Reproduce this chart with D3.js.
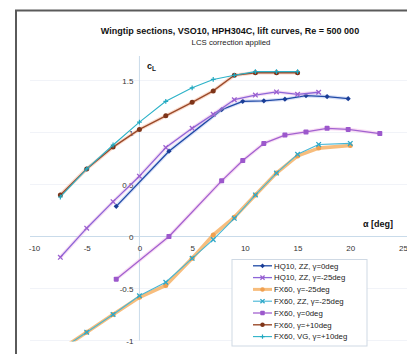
<!DOCTYPE html>
<html><head><meta charset="utf-8">
<script src="https://cdn.jsdelivr.net/npm/d3@7"></script>
<style>
body{margin:0;background:#fff}
svg{display:block}
text{font-family:"Liberation Sans",Arial,sans-serif}
</style>
</head><body>
<svg id="chart" width="407" height="354"></svg>
<script>
// ---- data ----
const titleText = "Wingtip sections, VSO10, HPH304C, lift curves, Re = 500 000";
const subtitleText = "LCS correction applied";
const xTicks = [-10, -5, 0, 5, 10, 15, 20, 25];
const yTicks = [-1, -0.5, 0, 0.5, 1, 1.5];
const seriesNames = ["HQ10, ZZ, \u03b3=0deg", "HQ10, ZZ, \u03b3=-25deg", "FX60, \u03b3=-25deg",
  "FX60, ZZ, \u03b3=-25deg", "FX60, \u03b3=0deg", "FX60, \u03b3=+10deg", "FX60, VG, \u03b3=+10deg"];

const hq10_g0_alpha = [-2.2, 2.8, 7.8, 9.8, 11.8, 13.8, 15.8, 17.8, 19.8];
const hq10_g0_cl    = [0.29, 0.82, 1.22, 1.30, 1.305, 1.32, 1.355, 1.345, 1.325];

const hq10_g25_alpha = [-7.5, -5, -2.5, 0, 2.5, 5, 7, 9, 11, 13, 15, 17];
const hq10_g25_cl    = [-0.20, 0.08, 0.335, 0.58, 0.855, 1.04, 1.175, 1.315, 1.36, 1.39, 1.367, 1.387];

const fx60_g25_alpha = [-7.5, -5, -2.5, 0, 2.5, 5, 7, 9, 11, 13, 15, 17, 20];
const fx60_g25_cl    = [-1.09, -0.92, -0.75, -0.585, -0.47, -0.21, 0.015, 0.185, 0.40, 0.61, 0.775, 0.85, 0.875];

const fx60zz_g25_alpha = [-7.5, -5, -2.5, 0, 2.5, 5, 7, 9, 11, 13, 15, 17, 20];
const fx60zz_g25_cl    = [-1.09, -0.92, -0.75, -0.57, -0.44, -0.21, -0.03, 0.175, 0.40, 0.61, 0.79, 0.885, 0.895];

const fx60_g0_alpha = [-2.2, 2.8, 7.8, 9.8, 11.8, 13.8, 15.8, 17.8, 19.8, 22.8];
const fx60_g0_cl    = [-0.41, 0.0, 0.535, 0.73, 0.895, 0.975, 1.005, 1.04, 1.03, 0.99];

const fx60_g10_alpha = [-7.5, -5, -2.5, 0, 2.5, 5, 7, 9, 11, 13, 15];
const fx60_g10_cl    = [0.40, 0.65, 0.86, 1.03, 1.16, 1.29, 1.40, 1.55, 1.575, 1.575, 1.575];

const fx60vg_g10_alpha = [-7.5, -5, -2.5, 0, 2.5, 5, 7, 9, 11, 13, 15];
const fx60vg_g10_cl    = [0.38, 0.65, 0.88, 1.10, 1.30, 1.43, 1.51, 1.55, 1.585, 1.585, 1.585];

// ---- styles ----
const styles = [
  {color:"#1f4aa6", width:1.3, marker:"diamond", mfill:"#1a3d96", halo:"#a8b8ee"},
  {color:"#8c66d8", width:1.3, marker:"times", mfill:"#9a60d0", halo:"#f0b4e4"},
  {color:"#f6b266", width:3.6, marker:"circle", mfill:"#f0a050", halo:null, opacity:0.85},
  {color:"#45b6d6", width:1.1, marker:"times", mfill:"#30a8c8", halo:null},
  {color:"#a262d0", width:1.3, marker:"square", mfill:"#9c58cc", halo:"#f2b6e6"},
  {color:"#9a4a2a", width:1.4, marker:"circle", mfill:"#7e3418", halo:"#f4b090"},
  {color:"#2cb2c8", width:1.1, marker:"plus", mfill:"#22a8c0", halo:null}
];

const data = [
  d3.zip(hq10_g0_alpha, hq10_g0_cl),
  d3.zip(hq10_g25_alpha, hq10_g25_cl),
  d3.zip(fx60_g25_alpha, fx60_g25_cl),
  d3.zip(fx60zz_g25_alpha, fx60zz_g25_cl),
  d3.zip(fx60_g0_alpha, fx60_g0_cl),
  d3.zip(fx60_g10_alpha, fx60_g10_cl),
  d3.zip(fx60vg_g10_alpha, fx60vg_g10_cl)
];

const svg = d3.select("#chart");
svg.append("rect").attr("width",407).attr("height",354).attr("fill","#fff");

// outer frame (left & top edges visible)
svg.append("path").attr("d","M16,354V10.5H407").attr("fill","none")
  .attr("stroke","#5a5a5a").attr("stroke-width",2);

const x = d3.scaleLinear().domain([-10, 25]).range([34, 403]);
const y = d3.scaleLinear().domain([-1, 1.5]).range([340.5, 80.5]);

// faint gridlines
svg.append("g").selectAll("line").data(yTicks.filter(d=>d!==0)).join("line")
  .attr("x1",30).attr("x2",407).attr("y1",d=>y(d)).attr("y2",d=>y(d))
  .attr("stroke","#f1f3f8").attr("stroke-width",1);

// axis lines
svg.append("line").attr("x1",30).attr("x2",407).attr("y1",y(0)).attr("y2",y(0))
  .attr("stroke","#c9dbea").attr("stroke-width",1);
svg.append("line").attr("x1",x(0)).attr("x2",x(0)).attr("y1",56).attr("y2",y(-1))
  .attr("stroke","#c9dbea").attr("stroke-width",1);

// tick labels via d3 axes
const fmt = d => String(d);
const gx = svg.append("g").attr("transform",`translate(0,${y(0)})`)
  .call(d3.axisBottom(x).tickValues(xTicks).tickSize(0).tickPadding(9).tickFormat(fmt));
const gy = svg.append("g").attr("transform",`translate(${x(0)},0)`)
  .call(d3.axisLeft(y).tickValues(yTicks).tickSize(0).tickPadding(6).tickFormat(fmt));
[gx, gy].forEach(g => {
  g.select(".domain").remove();
  g.selectAll("text").attr("font-size",8).attr("fill","#333")
    .attr("font-family","'Liberation Sans',Arial,sans-serif");
});

// titles
svg.append("text").attr("x",230).attr("y",34).attr("text-anchor","middle")
  .attr("font-size",9).attr("font-weight","bold").attr("fill","#111").text(titleText);
svg.append("text").attr("x",231).attr("y",44.5).attr("text-anchor","middle")
  .attr("font-size",7.8).attr("fill","#222").text(subtitleText);

// axis titles
const cl = svg.append("text").attr("x",147).attr("y",69).attr("font-size",9)
  .attr("font-weight","bold").attr("fill","#111");
cl.append("tspan").text("c");
cl.append("tspan").attr("font-size",6.5).attr("dy",2).text("L");
svg.append("text").attr("x",363).attr("y",226.5).attr("font-size",9)
  .attr("font-weight","bold").attr("fill","#111").text("\u03b1 [deg]");

// clip
svg.append("clipPath").attr("id","clip").append("rect")
  .attr("x",28).attr("y",50).attr("width",379).attr("height",y(-1)-50+1);

const plot = svg.append("g").attr("clip-path","url(#clip)");
const line = d3.line().x(d=>x(d[0])).y(d=>y(d[1]));

function drawMarker(g, type, cx, cy, st, scale) {
  const s = scale || 1;
  if (type === "diamond") {
    const r = 2.6*s;
    g.append("path").attr("d",`M${cx},${cy-r}L${cx+r},${cy}L${cx},${cy+r}L${cx-r},${cy}Z`)
      .attr("fill",st.mfill);
  } else if (type === "square") {
    const r = 2.5*s;
    g.append("rect").attr("x",cx-r).attr("y",cy-r).attr("width",2*r).attr("height",2*r)
      .attr("fill",st.mfill).attr("rx",0.8);
  } else if (type === "circle") {
    g.append("circle").attr("cx",cx).attr("cy",cy).attr("r",2.5*s).attr("fill",st.mfill);
  } else if (type === "times") {
    const r = 2.3*s;
    g.append("path").attr("d",`M${cx-r},${cy-r}L${cx+r},${cy+r}M${cx-r},${cy+r}L${cx+r},${cy-r}`)
      .attr("stroke",st.mfill).attr("stroke-width",1.3).attr("fill","none");
  } else if (type === "plus") {
    const r = 2.4*s;
    g.append("path").attr("d",`M${cx-r},${cy}H${cx+r}M${cx},${cy-r}V${cy+r}`)
      .attr("stroke",st.mfill).attr("stroke-width",1.2).attr("fill","none");
  }
}

data.forEach((pts, i) => {
  const st = styles[i];
  const g = plot.append("g");
  if (st.halo) {
    g.append("path").datum(pts).attr("d",line).attr("fill","none")
      .attr("stroke",st.halo).attr("stroke-width",3.6).attr("stroke-opacity",0.45)
      .attr("stroke-linejoin","round");
  }
  g.append("path").datum(pts).attr("d",line).attr("fill","none")
    .attr("stroke",st.color).attr("stroke-width",st.width)
    .attr("stroke-opacity",st.opacity||1).attr("stroke-linejoin","round");
  pts.forEach(p => drawMarker(g, st.marker, x(p[0]), y(p[1]), st));
});

// legend
const lg = svg.append("g");
lg.append("rect").attr("x",232).attr("y",259.5).attr("width",135).attr("height",86.5)
  .attr("fill","#fff").attr("stroke","#cfd9e4").attr("stroke-width",1);
seriesNames.forEach((name, i) => {
  const st = styles[i];
  const cy = 265.8 + i*11.8;
  const g = lg.append("g");
  g.append("line").attr("x1",253).attr("x2",272).attr("y1",cy).attr("y2",cy)
    .attr("stroke",st.color).attr("stroke-width",Math.min(st.width,3))
    .attr("stroke-opacity",st.opacity||1);
  drawMarker(g, st.marker, 262.5, cy, st, 0.9);
  g.append("text").attr("x",274).attr("y",cy+2.8).attr("font-size",7.8)
    .attr("fill","#222").text(name);
});
</script>
</body></html>
